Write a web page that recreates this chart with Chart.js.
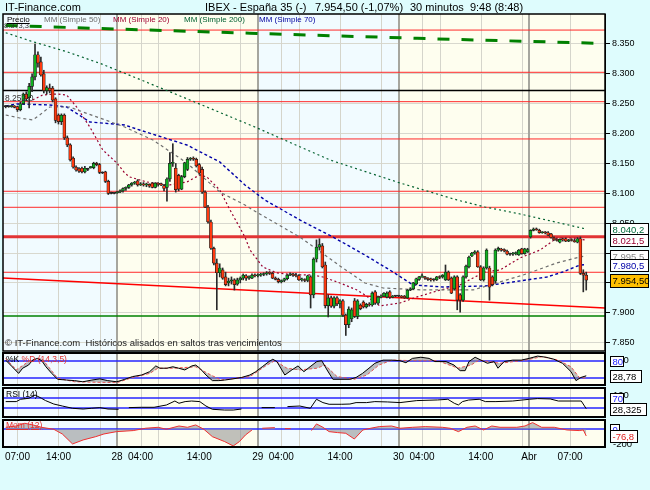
<!DOCTYPE html>
<html><head><meta charset="utf-8">
<script src="https://cdn.jsdelivr.net/npm/chart.js@4.4.1/dist/chart.umd.min.js"></script>
<style>
html,body{margin:0;padding:0;background:#defcfd;width:650px;height:490px;overflow:hidden;font-family:"Liberation Sans",Arial,sans-serif;}
canvas{position:absolute;left:0;}
.t{position:absolute;white-space:pre;line-height:1;}
</style></head><body>
<canvas id="cMain" width="650" height="360" style="top:0"></canvas>
<canvas id="cSto" width="650" height="38" style="top:350px"></canvas>
<canvas id="cRsi" width="650" height="35" style="top:385px"></canvas>
<canvas id="cMom" width="650" height="73" style="top:417px"></canvas>

<div class="t" style="left:5px;top:2px;font-size:11px;color:#000">IT-Finance.com</div>
<div class="t" style="left:205px;top:2px;font-size:11px;color:#000">IBEX - España 35 (-)</div>
<div class="t" style="left:315px;top:2px;font-size:11px;color:#000">7.954,50 (-1,07%)</div>
<div class="t" style="left:410px;top:2px;font-size:11px;color:#000">30 minutos  9:48 (8:48)</div>
<div class="t" style="left:4px;top:22px;font-size:7.5px;color:#333">8.373,3</div>
<div class="t" style="left:7px;top:16px;font-size:8px;color:#000;text-decoration:underline">Precio</div>
<div class="t" style="left:44px;top:16px;font-size:8px;color:#707070">MM (Simple 50)</div>
<div class="t" style="left:113px;top:16px;font-size:8px;color:#a00030">MM (Simple 20)</div>
<div class="t" style="left:184px;top:16px;font-size:8px;color:#006030">MM (Simple 200)</div>
<div class="t" style="left:259px;top:16px;font-size:8px;color:#0000a0">MM (Simple 70)</div>
<div class="t" style="left:5px;top:94px;font-size:8.5px;color:#333">8.252,0</div>
<div class="t" style="left:5px;top:338px;font-size:9.5px;color:#222">© IT-Finance.com  Históricos alisados en saltos tras vencimientos</div>
<div class="t" style="left:6px;top:355px;font-size:8.5px;color:#000">%K <span style="color:#e03030">%D (14,3,5)</span></div>
<div class="t" style="left:6px;top:390px;font-size:8.5px;color:#000">RSI (14)</div>
<div class="t" style="left:6px;top:421px;font-size:8.5px;color:#e03030;text-decoration:underline">Mom (12)</div>

<script>
// ---------- DATA ----------
// x axis: 30-minute bar index (0 = first bar shown)
const xTickPos    = [4, 18, 38, 46, 66, 86, 94, 114, 134, 142, 162, 178.5, 192.5];
const xTickLabels = ['07:00','14:00','28','04:00','14:00','29','04:00','14:00','30','04:00','14:00','Abr','07:00'];
const gridHours   = [4, 18, 32, 46, 52, 66, 80, 94, 100, 114, 128, 142, 148, 162, 176, 192.5];
const dayBreaks   = [38, 86, 134, 178.5];

const open = [8245,8245,8245,8246,8245,8240,8250,8266,8260,8279, 8295,8332,8320,8300,8272,8276,8276,8258,8231,8220,
 8231,8193,8181,8159,8144,8141,8142,8136,8140,8143, 8143,8150,8148,8134,8136,8120,8100,8100,8101,8102,
 8104,8108,8110,8114,8117,8121,8114,8116,8114,8115, 8117,8110,8116,8115,8113,8110,8124,8150,8142,8130,
 8107,8128,8140,8157,8158,8157,8148,8140,8102,8077, 8052,8008,7983,7967,7972,7960,7950,7953,7955,7948,
 7955,7958,7962,7958,7958,7963,7962,7963,7964,7965, 7967,7966,7958,7956,7952,7954,7957,7963,7965,7963,
 7962,7955,7955,7954,7960,7930,7990,8010,8012,7980, 7912,7925,7911,7925,7915,7920,7896,7880,7890,7920,
 7894,7913,7918,7910,7914,7913,7935,7916,7926,7928, 7926,7935,7926,7928,7928,7928,7928,7925,7938,7940,
 7948,7956,7960,7960,7958,7956,7955,7955,7960,7960, 7955,7968,7958,7940,7960,7930,7921,7960,7977,7995,
 8000,8002,7977,7955,7975,7975,7960,7953,8005,8006, 8005,8003,7998,7998,7999,7997,8007,7999,8002,8027,
 8038,8040,8038,8034,8035,8034,8032,8025,8022,8018, 8023,8024,8020,8022,8021,8018,8024,7966,7963];
const high = [8247,8246,8247,8247,8246,8253,8268,8270,8284,8300, 8350,8337,8328,8306,8280,8283,8279,8260,8233,8233,
 8233,8196,8183,8161,8146,8143,8144,8145,8142,8145, 8152,8152,8150,8136,8137,8122,8102,8101,8103,8106,
 8109,8111,8115,8118,8120,8123,8118,8118,8117,8116, 8118,8118,8118,8117,8115,8126,8168,8183,8150,8132,
 8130,8152,8160,8160,8161,8159,8150,8144,8104,8080, 8055,8010,7990,7982,7975,7968,7958,7960,7957,7958,
 7960,7965,7964,7962,7965,7965,7965,7966,7967,7969, 7969,7968,7960,7958,7955,7958,7964,7967,7966,7966,
 7964,7958,7957,7963,7962,7992,8022,8024,8016,7985, 7930,7928,7927,7927,7922,7922,7898,7910,7908,7924,
 7922,7915,7920,7916,7917,7935,7937,7928,7930,7934, 7935,7937,7929,7929,7929,7929,7929,7939,7942,7951,
 7958,7961,7965,7961,7959,7958,7957,7961,7962,7964, 7980,7970,7960,7962,7962,7932,7962,7980,7995,8001,
 8004,8004,7979,7977,8007,7978,7962,8007,8010,8008, 8007,8005,8000,8001,8002,8006,8008,8008,8008,8039,
 8042,8042,8040,8036,8036,8036,8033,8027,8024,8024, 8025,8025,8023,8024,8023,8026,8027,7972,7968];
const low = [8243,8244,8244,8243,8237,8238,8249,8255,8243,8270, 8290,8311,8296,8268,8266,8268,8253,8218,8216,8215,
 8190,8178,8154,8142,8137,8135,8134,8134,8138,8142, 8141,8146,8133,8133,8118,8098,8099,8099,8100,8101,
 8102,8105,8108,8112,8115,8112,8113,8112,8111,8110, 8109,8109,8112,8113,8104,8087,8120,8145,8102,8104,
 8106,8126,8138,8155,8155,8144,8132,8100,8076,8050, 8006,7980,7905,7960,7956,7945,7945,7948,7938,7946,
 7950,7955,7954,7956,7957,7960,7960,7961,7962,7963, 7964,7957,7955,7950,7950,7952,7955,7962,7961,7960,
 7954,7953,7952,7952,7908,7925,7985,8005,7975,7908, 7893,7909,7908,7912,7908,7894,7862,7875,7885,7892,
 7890,7905,7908,7908,7911,7911,7914,7914,7925,7927, 7925,7924,7925,7927,7927,7925,7924,7924,7937,7939,
 7947,7954,7959,7956,7954,7953,7953,7954,7957,7958, 7954,7954,7932,7938,7905,7901,7919,7958,7975,7994,
 7998,7976,7954,7953,7973,7921,7945,7950,8003,8003, 8002,7997,7996,7996,7997,7996,7998,7998,8001,8025,
 8037,8038,8033,8033,8032,8029,8025,8021,8020,8017, 8020,8019,8019,8020,8018,8017,7964,7935,7938];
const close = [8245,8245,8246,8244,8240,8250,8266,8258,8279,8295, 8332,8318,8298,8272,8277,8272,8256,8222,8220,8231,
 8193,8181,8156,8144,8139,8137,8136,8142,8140,8144, 8150,8148,8135,8134,8120,8100,8100,8100,8102,8104,
 8108,8110,8114,8117,8118,8114,8116,8114,8115,8112, 8110,8117,8115,8114,8108,8124,8150,8152,8106,8107,
 8128,8151,8157,8158,8157,8146,8134,8102,8077,8052, 8008,7983,7967,7975,7958,7947,7953,7955,7947,7955,
 7958,7963,7958,7960,7963,7962,7963,7964,7965,7967, 7966,7958,7956,7952,7954,7957,7963,7965,7963,7962,
 7955,7956,7954,7962,7930,7990,8010,8014,7977,7912, 7925,7911,7925,7915,7920,7896,7880,7906,7905,7894,
 7920,7907,7910,7914,7913,7933,7916,7926,7928,7933, 7933,7926,7928,7928,7928,7926,7925,7938,7940,7950,
 7957,7960,7962,7958,7956,7955,7955,7960,7959,7963, 7968,7955,7933,7960,7921,7921,7960,7978,7993,8000,
 8002,7977,7955,7975,8005,7943,7947,8005,8008,8005, 8004,7998,7998,7999,8000,8005,7999,8007,8006,8038,
 8040,8039,8034,8035,8034,8030,8026,8022,8021,8023, 8022,8020,8022,8021,8019,8024,7966,7963,7954.5];

// moving averages [barIndex, value]
const mm20  = [[9.2,8256.3],[12.6,8264.6],[17.4,8266.3],[20.8,8264.6],[24.2,8244.5],[28.7,8211],[33.1,8172.6],[37.9,8150.8],[40.6,8134],[42.3,8127.4],[48.1,8119],[56,8114],[61.8,8119],[66.2,8130.7],[68.6,8127.4],[73,8105.6],[76.5,8072.1],[81.6,8026.9],[83.3,8005.2],[87.7,7976.7],[92.5,7966.7],[99.3,7963.3],[104.8,7963.3],[108.2,7959.9],[114,7949.9],[119.8,7938.2],[122.5,7929.8],[127.6,7911.4],[134.5,7916.4],[140.3,7926.5],[147.1,7936.5],[154.9,7946.6],[159.4,7958.3],[163.5,7968.3],[168.6,7971.7],[175.4,7991.8],[182.3,8005.2],[188,8025.2],[193.5,8025.2],[198,8021.5]];
const mm50  = [[0,8231.1],[4.8,8226.1],[9.2,8222.8],[11.6,8231.1],[15,8244.5],[21.8,8244.5],[26.3,8236.2],[32.1,8226.1],[40.6,8211],[50.2,8189.3],[61.8,8150.8],[73,8102.2],[81.6,8080.5],[84.3,8072.1],[100.3,8026.9],[114,7978.4],[122.5,7949.9],[128.7,7941.5],[142.3,7938.2],[159.4,7938.2],[165.2,7946.6],[176.5,7963.3],[188,7983.4],[195.9,7993.4],[198,7995.5]];
const mm70  = [[0,8246],[3.75,8249.6],[15,8247.9],[20.8,8244.5],[28.7,8219.4],[40.6,8214.4],[45.7,8206],[61.8,8180.9],[73,8152.5],[81.6,8114],[88.4,8088.9],[100.3,8055.4],[111.6,8026.9],[122.5,7996.8],[132.1,7968.3],[138.9,7946.6],[149.1,7943.2],[163.5,7944.9],[173,7951.6],[184.6,7959.9],[190,7968.3],[195.9,7980],[198,7980.5]];
const mm200 = [[0,8368.9],[9.2,8353.9],[20.8,8337.1],[32.1,8317.7],[40.6,8301],[62.8,8256.3],[85,8211],[110.6,8155.8],[134.5,8117.3],[153.9,8088.9],[163.5,8077.1],[175.4,8065.4],[198,8040.2]];
const mm200Long = [[0,8381],[83.3,8368],[140.3,8359.5],[202.7,8351]];

// horizontal levels
const redLevels = [8373.3, 8302.6, 8253.4, 8191, 8103.4, 8076.6, 7967.8];
const redThickLevel = 8027.4;
const blackLevel = 8272;
const greenLevel = 7894.7;
const slopeLine = [7958.3, 7908];   // value at left edge, value at right edge

// indicators [barIndex, value]
const stochK = [[0,83],[2.2,60],[4.4,37],[5.8,55],[7.8,66],[9.2,83],[10.8,89],[12.3,81],[13.7,60],[15.7,37],[17.7,16.5],[20.8,14],[23.5,12],[26.3,8],[29.4,14],[32.1,18],[34.8,12],[37.9,8],[40.6,16.5],[43.3,26],[46.4,31.5],[49.1,43],[51.2,63],[52.6,55],[55,55],[57,60],[59,55],[61.1,49],[63.5,63],[64.8,66],[66.2,55],[68.3,31.5],[70.5,12],[72.7,12],[74.7,14],[77.5,18],[80.5,23],[83.3,31.5],[85.3,43],[87.5,60],[89.8,78],[91.1,86],[92.5,78],[95.2,31.5],[97.6,49],[99.7,63],[101.7,43],[103.8,60],[106.1,78],[107.8,81],[109.6,49],[111.6,16.5],[114.7,16.5],[117.4,16.5],[119.5,23],[121.7,37],[123.9,55],[125.9,72],[128.7,83],[131.7,83],[134.5,81],[136.5,74],[138.7,89],[141.6,93],[144.4,89],[146.4,78],[150.2,78],[152.9,66],[155,46.5],[156.7,46.5],[158,78],[160.1,93],[162.1,83],[164.3,72],[166.6,78],[167.9,55],[170,78],[172.9,83],[175.8,83],[178.5,89],[181.4,97],[184.3,93],[187,86],[189.9,72],[192.8,43],[194.5,12],[196.2,23],[198,28.78]];
const stochD = [[0,89],[3.6,49],[8.5,83],[12.3,89],[17.7,20],[23.5,8],[37.9,5],[43.3,23],[49.1,37],[51.9,55],[57.7,55],[64.8,60],[68.9,37],[73.4,14],[83.3,26],[89.1,66],[91.8,81],[95.9,55],[100.3,49],[106.1,55],[108.9,66],[113,26],[118.8,16.5],[123.2,31.5],[127.3,66],[131.7,83],[140.3,81],[147.3,81],[154.3,55],[158.7,66],[161.4,83],[168.6,72],[177.1,83],[182.9,95],[188.4,83],[192.8,60],[195.6,23],[198,21]];
const rsi = [[0,56.7],[3.6,56.7],[5.1,66],[7.9,70],[10,83],[12.2,70],[13.6,60.7],[16.4,47],[19.3,39],[22.8,30],[26.4,27],[29.2,30],[32.1,32.7],[34.9,27],[38.5,26],[40,null],[42,32.7],[46.3,34],[50.6,34],[54.8,43],[57.7,59],[59.1,50],[61.2,56.7],[63.4,59],[66.2,56.7],[68.3,39],[70.5,26],[74.7,23],[77.6,23],[80.4,27],[84,null],[87.3,32.7],[91.8,32.7],[94,null],[96.1,36.7],[100.3,39],[103.9,30],[106,66],[108.2,52.7],[110.3,46],[114.6,46],[117.4,47],[119.5,52.7],[123.1,52.7],[125.9,56.7],[130.2,55.3],[134.5,52.7],[140.2,60.7],[147.3,63.3],[150.8,66],[153,50],[154.4,43.3],[155.8,56.7],[157.9,63],[161.5,66],[163.6,56.7],[167.2,56.7],[172.9,59],[178.6,66],[181.4,68.7],[185.7,67.3],[188.5,59],[196.3,59],[198,28.325]];
const mom = [[0,23],[3.6,38],[6.5,69],[9.3,50],[12.2,23],[16.4,0],[19.3,-54],[22.8,-169],[26.4,-123],[30.7,-85],[33.5,-54],[37.8,-27],[43.5,-15],[47.7,12],[52,23],[54.8,0],[59.1,38],[62,23],[64.8,50],[67.6,0],[70.5,-85],[74.7,-142],[77.6,-192],[79.7,-142],[81.8,-65],[84,-8],[85,null],[87.5,12],[91.8,19],[93,null],[95.2,8],[97.2,8],[100,null],[104.3,-15],[106,62],[108.2,23],[110.3,-27],[113.2,-38],[116,-46],[118.9,-112],[121.8,-8],[124.5,12],[127.4,31],[131.6,38],[134.5,12],[138.8,23],[143.1,31],[148.9,23],[151.6,12],[154.4,-27],[157.3,23],[160.1,38],[163,-8],[165.8,38],[168.6,23],[174.3,23],[177.1,38],[179.7,77],[182.8,23],[187.1,23],[191.4,-8],[195.6,-15],[197,-8],[198,-76.8]];

// ---------- RENDERING ----------
const X_MIN = -0.92, X_MAX = 204.4;
const FONT = '"Liberation Sans", Arial, sans-serif';
const BG_BLUE = '#f1fbff', BG_YEL = '#fefeef';
const bandColors = [BG_BLUE, BG_YEL, BG_BLUE, BG_YEL, BG_YEL];
const pts = arr => arr.map(p => ({x: p[0], y: p[1]}));
const last = arr => arr[arr.length - 1][1];

function fmtEs(v, dec) {
  const neg = v < 0; const s = Math.abs(v).toFixed(dec);
  let [ip, fp] = s.split('.');
  ip = ip.replace(/\B(?=(\d{3})+(?!\d))/g, '.');
  return (neg ? '-' : '') + ip + (fp ? ',' + fp : '');
}

function drawBox(ctx, x, yc, w, h, text, color, bg) {
  const top = Math.round(yc - h / 2);
  ctx.fillStyle = bg; ctx.fillRect(x, top, w, h);
  ctx.strokeStyle = '#000'; ctx.lineWidth = 1; ctx.strokeRect(x + 0.5, top + 0.5, w, h);
  ctx.fillStyle = color; ctx.textAlign = 'left'; ctx.textBaseline = 'middle';
  ctx.fillText(text, x + 2.5, top + h / 2 + 1);
}

function decor(cfg) {
  return {
    id: 'decor',
    beforeDraw(chart) {
      const {ctx, chartArea: a, scales: {x}} = chart;
      const edges = [X_MIN, ...dayBreaks, X_MAX];
      ctx.save();
      for (let k = 0; k < edges.length - 1; k++) {
        const x0 = x.getPixelForValue(edges[k]), x1 = x.getPixelForValue(edges[k + 1]);
        ctx.fillStyle = bandColors[k];
        ctx.fillRect(x0, a.top, x1 - x0, a.bottom - a.top);
      }
      ctx.restore();
    },
    beforeDatasetsDraw(chart) {
      const {ctx, chartArea: a, scales: {x, y}} = chart;
      ctx.save();
      ctx.strokeStyle = '#d5d5cb'; ctx.lineWidth = 1;
      gridHours.forEach(v => {
        const px = Math.round(x.getPixelForValue(v)) + 0.5;
        ctx.beginPath(); ctx.moveTo(px, a.top); ctx.lineTo(px, a.bottom); ctx.stroke();
      });
      ctx.strokeStyle = '#a6a69e'; ctx.lineWidth = 2;
      dayBreaks.forEach(v => {
        const px = Math.round(x.getPixelForValue(v));
        ctx.beginPath(); ctx.moveTo(px, a.top); ctx.lineTo(px, a.bottom); ctx.stroke();
      });
      if (cfg.levels) {
        ctx.strokeStyle = '#2424ff'; ctx.lineWidth = 1.5;
        cfg.levels.forEach(v => {
          const py = Math.round(y.getPixelForValue(v));
          ctx.beginPath(); ctx.moveTo(a.left, py); ctx.lineTo(a.right, py); ctx.stroke();
        });
      }
      ctx.restore();
    },
    afterDraw(chart) {
      const {ctx, chartArea: a, scales: {x, y}} = chart;
      ctx.save();
      ctx.strokeStyle = '#000'; ctx.lineWidth = cfg.frame || 1.5;
      ctx.strokeRect(a.left, a.top, a.right - a.left, a.bottom - a.top);
      ctx.font = (cfg.boxFont || '9.5px ') + FONT;
      (cfg.texts || []).forEach(t => {
        ctx.fillStyle = t.color || '#000'; ctx.textAlign = 'left'; ctx.textBaseline = 'middle';
        ctx.fillText(t.text, 613, y.getPixelForValue(t.v) + (t.dy || 0) + 1);
      });
      (cfg.boxes || []).forEach(b => drawBox(ctx, 610, y.getPixelForValue(b.v), b.w, b.h || 12, b.text, b.color, b.bg || '#fff'));
      if (cfg.xLabels) {
        ctx.font = '10px ' + FONT; ctx.fillStyle = '#000'; ctx.textAlign = 'center'; ctx.textBaseline = 'middle';
        xTickPos.forEach((v, k) => ctx.fillText(xTickLabels[k], x.getPixelForValue(v), a.bottom + 10));
      }
      ctx.restore();
    }
  };
}

function hLine(v, color, width, dash) {
  return {type: 'line', data: [{x: X_MIN, y: v}, {x: X_MAX, y: v}], borderColor: color, borderWidth: width,
          borderDash: dash || [], pointRadius: 0, order: 50};
}
function maLine(arr, color, width, dash, order) {
  return {type: 'line', data: pts(arr), borderColor: color, borderWidth: width, borderDash: dash,
          pointRadius: 0, order: order || 20};
}

const baseOpts = (padding) => ({
  responsive: false, animation: false, devicePixelRatio: 1,
  layout: {padding},
  plugins: {legend: {display: false}, tooltip: {enabled: false}},
  events: []
});

// ---- Main price chart ----
const mainDatasets = [
  ...redLevels.map(v => hLine(v, '#ff2a2a', 1)),
  hLine(redThickLevel, '#e23434', 3),
  hLine(blackLevel, '#000', 1.5),
  hLine(greenLevel, '#008000', 1.5),
  {type: 'line', data: [{x: X_MIN, y: slopeLine[0]}, {x: X_MAX, y: slopeLine[1]}], borderColor: '#ff0000', borderWidth: 1.5, pointRadius: 0, order: 50},
  maLine(mm200Long, '#008000', 3, [12, 12], 40),
  maLine(mm200, '#00602e', 1.2, [2, 3]),
  maLine(mm50, '#6e6e6e', 1.2, [3, 3]),
  maLine(mm70, '#0000a8', 1.4, [3, 2.5]),
  maLine(mm20, '#9a0030', 1.2, [2, 2.5]),
  {type: 'bar', data: low.map((l, i) => ({x: i, y: [l, high[i]]})), backgroundColor: '#2a2a2a',
   barThickness: 1, grouped: false, order: 10},
  {type: 'bar', data: open.map((o, i) => ({x: i, y: [o, close[i]]})),
   backgroundColor: ctx => { const i = ctx.dataIndex; return close[i] > open[i] ? '#10b020' : (close[i] < open[i] ? '#ff3a10' : '#333'); },
   borderColor: '#1a1a1a', borderWidth: 0.7, borderSkipped: false, barThickness: 3, minBarLength: 1,
   grouped: false, order: 5}
];
new Chart(document.getElementById('cMain'), {
  type: 'bar',
  data: {datasets: mainDatasets},
  options: Object.assign(baseOpts({left: 3, top: 14, right: 0, bottom: 9}), {
    scales: {
      x: {type: 'linear', min: X_MIN, max: X_MAX, display: false, offset: false},
      y: {type: 'linear', position: 'right', min: 7836, max: 8400.2,
          afterFit(s) { s.width = 45; },
          afterBuildTicks(s) { s.ticks = s.ticks.filter(t => t.value % 50 === 0 && t.value < 8390); },
          ticks: {stepSize: 50, includeBounds: false, padding: 2, color: '#000', font: {size: 9, family: FONT},
                  callback: v => fmtEs(v, 0)},
          grid: {color: '#d8d8ce', tickColor: '#000', tickLength: 5, lineWidth: 1},
          border: {color: '#000', width: 1}}
    }
  }),
  plugins: [decor({frame: 1.5, boxes: [
    {v: last(mm200), text: fmtEs(last(mm200), 1), color: '#006b3a', w: 38},
    {v: last(mm20),  text: fmtEs(last(mm20), 1),  color: '#9a0030', w: 38},
    {v: last(mm50),  text: fmtEs(last(mm50), 1),  color: '#888', w: 38},
    {v: last(mm70),  text: fmtEs(last(mm70), 1),  color: '#0000a8', w: 38},
    {v: close[close.length - 1], text: fmtEs(close[close.length - 1], 2), color: '#000', bg: '#ffc000', w: 38, h: 13}
  ]})]
});

function subChart(id, padding, yMin, yMax, datasets, cfg) {
  new Chart(document.getElementById(id), {
    type: 'line',
    data: {datasets},
    options: Object.assign(baseOpts(padding), {
      scales: {
        x: {type: 'linear', min: X_MIN, max: X_MAX, display: false},
        y: {type: 'linear', position: 'right', min: yMin, max: yMax, afterFit(s) { s.width = 45; },
            ticks: {display: false}, grid: {display: false}, border: {display: false}}
      }
    }),
    plugins: [decor(cfg)]
  });
}

// ---- Stochastic ----
subChart('cSto', {left: 3, top: 3, right: 0, bottom: 3}, -3.2, 107.7, [
  {data: pts(stochK), borderColor: '#000', borderWidth: 1, pointRadius: 0, fill: '+1', backgroundColor: 'rgba(140,140,140,0.55)'},
  {data: pts(stochD), borderColor: '#ff4040', borderWidth: 1, borderDash: [3, 2], pointRadius: 0}
], {frame: 2, levels: [80, 20], boxFont: '9.5px ',
    texts: [{v: 80, dy: -2, text: '100'}],
    boxes: [{v: 80, text: '80', color: '#2020ff', w: 13, h: 10},
            {v: last(stochK), text: fmtEs(last(stochK), 2), color: '#000', w: 31, h: 12}]});

// ---- RSI ----
subChart('cRsi', {left: 3, top: 3, right: 0, bottom: 3}, -4.8, 111, [
  {data: pts(rsi), borderColor: '#000', borderWidth: 1, pointRadius: 0, spanGaps: false}
], {frame: 2, levels: [70, 30], boxFont: '9.5px ',
    texts: [{v: 70, dy: -4, text: '100'}],
    boxes: [{v: 70, text: '70', color: '#2020ff', w: 13, h: 11},
            {v: last(rsi), text: fmtEs(last(rsi), 3), color: '#000', w: 36, h: 12}]});

// ---- Momentum ----
subChart('cMom', {left: 3, top: 3, right: 0, bottom: 43}, -204, 107, [
  {data: pts(mom), borderColor: '#f03030', borderWidth: 1, pointRadius: 0, spanGaps: false,
   fill: {target: {value: 0}}, backgroundColor: 'rgba(150,150,150,0.6)'}
], {frame: 2, levels: [0], boxFont: '9.5px ', xLabels: true,
    texts: [{v: -200, dy: -3, text: '-200'}],
    boxes: [{v: 0, text: '0', color: '#2020ff', w: 9, h: 11},
            {v: last(mom), text: fmtEs(last(mom), 1), color: '#e02020', w: 27, h: 12}]});
</script>
</body></html>
